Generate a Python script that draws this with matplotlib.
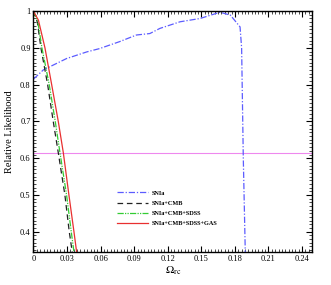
import matplotlib
matplotlib.use('Agg')
import matplotlib.pyplot as plt
from matplotlib.ticker import MultipleLocator

# SNIa
om_sn = [0.0, 0.0088, 0.0296, 0.0476, 0.059, 0.077, 0.092, 0.104, 0.113, 0.131, 0.149, 0.1667, 0.176, 0.1846, 0.186, 0.1875, 0.1893]
lk_sn = [0.815, 0.84, 0.871, 0.889, 0.898, 0.917, 0.935, 0.939, 0.953, 0.971, 0.98, 0.997, 0.989, 0.957, 0.9, 0.6, 0.34]

# SNIa+CMB
om_cmb = [0.0, 0.0035, 0.0067, 0.0127, 0.0177, 0.0222, 0.0281, 0.032, 0.0349]
lk_cmb = [1.0, 0.97, 0.9, 0.8, 0.7, 0.615, 0.5, 0.4, 0.34]

# SNIa+CMB+SDSS
om_sdss = [0.0, 0.004, 0.0076, 0.0141, 0.0195, 0.0237, 0.0296, 0.0338, 0.0364]
lk_sdss = [1.0, 0.97, 0.9, 0.8, 0.7, 0.615, 0.5, 0.4, 0.34]

# SNIa+CMB+SDSS+GAS
om_gas = [0.0, 0.0045, 0.0103, 0.0163, 0.0222, 0.0267, 0.0317, 0.0362, 0.0388]
lk_gas = [1.0, 0.975, 0.9, 0.8, 0.7, 0.615, 0.5, 0.4, 0.34]

level = 0.615

plt.rcParams['font.family'] = ['Liberation Serif', 'DejaVu Serif']
plt.rcParams['mathtext.fontset'] = 'stix'

fig = plt.figure(figsize=(3.31, 2.85), dpi=100)
ax = fig.add_axes([0.101, 0.116, 0.842, 0.845])

ax.axhline(level, color='#ee88ee', lw=0.8)
ax.plot(om_sn, lk_sn, color='#5c5cff', lw=0.9, dashes=(5, 1.5, 1, 1.5), label='SNIa')
ax.plot(om_cmb, lk_cmb, color='#222222', lw=0.9, dashes=(4.5, 3), label='SNIa+CMB')
ax.plot(om_sdss, lk_sdss, color='#33cc33', lw=0.9, dashes=(5, 1, 1, 1, 1, 1), label='SNIa+CMB+SDSS')
ax.plot(om_gas, lk_gas, color='#e83030', lw=0.9, label='SNIa+CMB+SDSS+GAS')

ax.set_xlim(0, 0.249)
ax.set_ylim(0.345, 1.0)
ax.xaxis.set_minor_locator(MultipleLocator(0.003))
ax.yaxis.set_minor_locator(MultipleLocator(0.01))
ax.set_xticks([0, 0.03, 0.06, 0.09, 0.12, 0.15, 0.18, 0.21, 0.24])
ax.set_xticklabels(['0', '0.03', '0.06', '0.09', '0.12', '0.15', '0.18', '0.21', '0.24'])
ax.set_yticks([0.4, 0.5, 0.6, 0.7, 0.8, 0.9, 1.0])
ax.set_yticklabels(['0.4', '0.5', '0.6', '0.7', '0.8', '0.9', '1'])
ax.tick_params(which='both', direction='in', top=True, right=True, labelsize=6, pad=2)
ax.tick_params(which='major', length=4, width=0.8)
ax.tick_params(which='minor', length=2, width=0.5)
for s in ax.spines.values():
    s.set_linewidth(1.0)

ax.set_ylabel('Relative Likelihood', fontsize=7.5, labelpad=4)
ax.set_xlabel(r'$\Omega_{\rm rc}$', fontsize=8, labelpad=1)

leg = ax.legend(loc='lower left', bbox_to_anchor=(0.28, 0.085), frameon=False,
                prop={'size': 4.5, 'weight': 'bold'}, handlelength=5.0,
                labelspacing=0.75, handletextpad=0.5)

plt.savefig('out.png', dpi=100)
plt.close()
